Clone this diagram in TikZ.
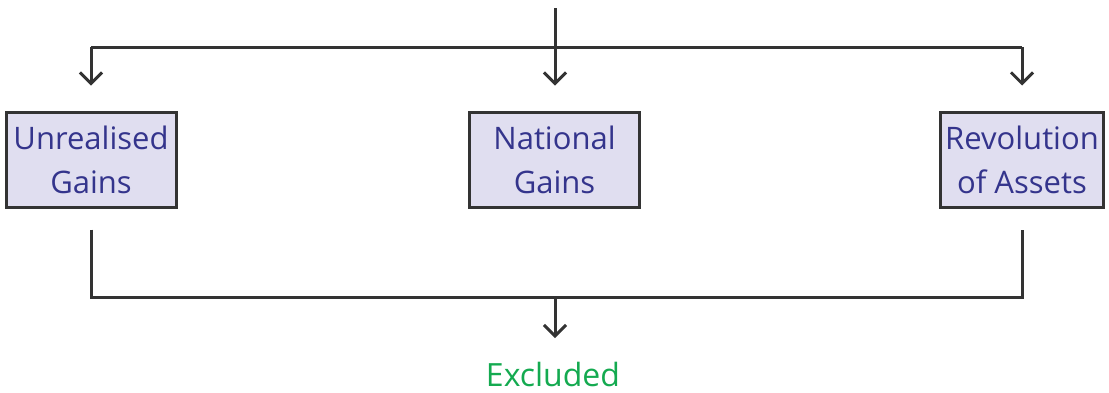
\documentclass[tikz,border=0pt]{standalone}
\usepackage{fontspec}
\setmainfont{Open Sans}
\usetikzlibrary{arrows.meta}
\definecolor{boxfill}{RGB}{224,222,240}
\definecolor{boxtext}{RGB}{52,52,140}
\definecolor{linegray}{RGB}{51,51,51}
\definecolor{exclgreen}{RGB}{20,170,80}
\tikzset{
  gainbox/.style={draw=linegray,line width=3pt,fill=boxfill,text=boxtext,
    minimum width=170pt,minimum height=95pt,align=center,inner sep=0pt,
    font=\fontsize{31}{44}\selectfont},
}
\begin{document}
\begin{tikzpicture}[x=1pt,y=-1pt,line width=3pt,draw=linegray,
  >={Straight Barb[length=11pt,width=22pt]}]
	  \useasboundingbox (0,0) rectangle (1109,392);
	  \node[gainbox] (lbox) at (91,159.5) {Unrealised\\Gains};
	  \node[gainbox] (mbox) at (554.5,159.5) {National\\Gains};
	  \node[gainbox,minimum width=163pt] (rbox) at (1022,159.5) {Revolution\\of Assets};
	  \node[text=exclgreen,font=\fontsize{32}{36}\selectfont] (excl) at (553,374) {Excluded};
	  \coordinate (top) at (555,8);
	  \coordinate (split) at (555,47);
	  \coordinate (join) at (555,297);
	  % top fan-out
	  \draw (split -| lbox.north) -- (split -| rbox.north);
	  \draw[->] (top) -- ([yshift=25pt]mbox.north -| top);
	  \draw[->] (split -| lbox.north) -- ([yshift=25pt]lbox.north);
	  \draw[->] (split -| rbox.north) -- ([yshift=25pt]rbox.north);
	  % bottom merge
	  \draw ([yshift=-21pt]lbox.south) -- (join -| lbox.south) -- (join -| rbox.south) -- ([yshift=-21pt]rbox.south);
	  \draw[->] (join) -- (join |- 0,338);
\end{tikzpicture}
\end{document}
